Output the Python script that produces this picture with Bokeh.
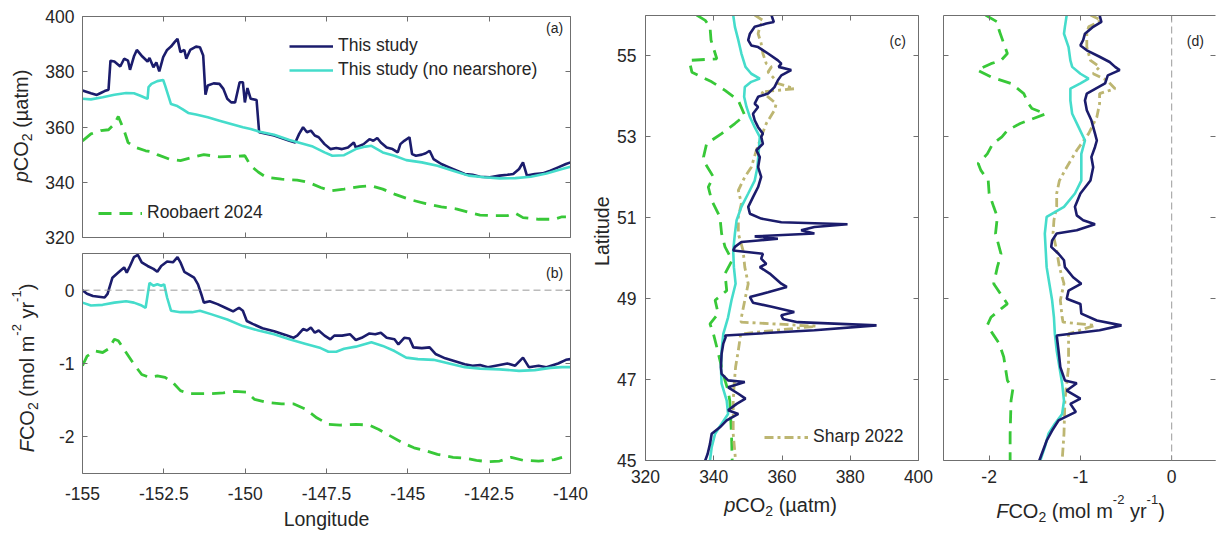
import math
from bokeh.plotting import figure
from bokeh.models import (Range1d, FixedTicker, LinearAxis, Span, Label, Legend,
                          LegendItem, CustomJSTickFormatter)
from bokeh.core.properties import value
from bokeh.layouts import row, column
from bokeh.embed import file_html
from bokeh.resources import INLINE

# ---------------- data ----------------
# panel (a): pCO2 vs longitude
lon_a_study = [-155.00, -154.74, -154.56, -154.44, -154.32, -154.20, -154.14, -154.02, -153.84, -153.72,
               -153.60, -153.54, -153.42, -153.33, -153.16, -153.00, -152.94, -152.82, -152.73, -152.64,
               -152.52, -152.40, -152.28, -152.17, -152.08, -151.99, -151.87, -151.81, -151.69, -151.51,
               -151.39, -151.29, -151.22, -151.15, -150.97, -150.79, -150.67, -150.55, -150.43, -150.31,
               -150.17, -150.07, -150.01, -149.93, -149.83, -149.65, -149.57, -149.11, -148.64, -148.46,
               -148.34, -148.22, -148.10, -147.98, -147.86, -147.74, -147.56, -147.38, -147.20, -147.02,
               -146.84, -146.66, -146.60, -146.36, -146.18, -146.06, -145.94, -145.83, -145.65, -145.47,
               -145.31, -145.23, -145.11, -144.95, -144.87, -144.75, -144.57, -144.45, -144.33, -144.21,
               -143.97, -143.73, -143.49, -143.25, -143.01, -142.78, -142.48, -142.18, -141.94, -141.76,
               -141.58, -141.46, -141.34, -141.10, -140.86, -140.62, -140.38, -140.14, -140.00]
pco2_a_study = [373.2, 372.2, 371.6, 372.3, 373.0, 373.5, 384.0, 383.7, 381.9, 384.7,
                384.0, 380.7, 385.5, 387.9, 385.5, 383.7, 385.0, 381.6, 383.4, 380.1,
                385.3, 387.9, 389.1, 390.7, 391.9, 387.1, 387.9, 384.7, 387.9, 389.1,
                388.9, 385.9, 371.7, 375.0, 375.8, 375.6, 373.8, 370.2, 368.9, 368.9,
                376.2, 376.2, 368.9, 374.1, 370.2, 369.8, 358.1, 356.9, 355.0, 354.4,
                357.5, 359.9, 358.1, 358.7, 356.9, 356.3, 353.8, 352.0, 352.4, 352.0,
                352.6, 354.4, 352.6, 353.8, 355.6, 355.0, 356.0, 354.4, 352.6, 352.0,
                350.8, 353.8, 355.0, 356.3, 350.2, 349.6, 350.0, 350.5, 351.4, 348.4,
                346.6, 345.4, 344.2, 343.0, 342.7, 342.0, 341.8, 342.4, 342.7, 343.0,
                344.8, 347.2, 342.4, 343.0, 343.2, 344.2, 345.4, 346.6, 347.2]

lon_a_nonear = [-155.00, -154.74, -154.38, -154.02, -153.66, -153.42, -153.24, -153.06, -153.00, -152.97,
                -152.88, -152.70, -152.52, -152.46, -152.28, -152.11, -151.93, -151.75, -151.51, -151.15,
                -150.79, -150.43, -150.07, -149.83, -149.59, -149.11, -148.64, -148.28, -147.92, -147.56,
                -147.32, -146.96, -146.60, -146.30, -146.12, -145.77, -145.41, -145.05, -144.57, -144.09,
                -143.61, -143.13, -142.66, -142.18, -141.70, -141.22, -140.74, -140.26, -140.00]
pco2_a_nonear = [370.2, 370.0, 370.8, 371.7, 372.3, 372.2, 371.4, 370.5, 370.2, 374.4,
                 375.6, 376.6, 377.0, 375.0, 368.3, 367.7, 366.5, 365.1, 364.5, 363.5,
                 362.3, 361.1, 359.9, 359.3, 358.4, 357.2, 355.3, 354.1, 352.9, 350.8,
                 349.6, 349.8, 352.0, 352.9, 353.2, 350.8, 349.6, 348.0, 347.2, 346.0,
                 344.2, 342.4, 341.8, 341.4, 341.5, 342.0, 343.2, 344.8, 345.6]

lon_a_roob = [-155.00, -154.74, -154.44, -154.20, -154.02, -153.90, -153.72, -153.60, -153.36, -153.06,
              -152.88, -152.70, -152.34, -151.99, -151.63, -151.27, -150.79, -150.31, -150.01, -149.83,
              -149.59, -149.35, -148.88, -148.40, -148.04, -147.68, -147.38, -146.96, -146.48, -146.12,
              -145.77, -145.41, -144.93, -144.45, -143.97, -143.49, -143.13, -142.78, -142.30, -141.94,
              -141.70, -141.46, -140.98, -140.50, -140.26, -140.14]
pco2_a_roob = [355.0, 357.5, 358.7, 359.0, 361.1, 363.8, 358.7, 354.4, 352.6, 351.4,
               351.0, 350.0, 348.4, 347.8, 349.0, 350.0, 349.2, 349.4, 349.6, 346.0,
               343.6, 341.8, 341.1, 340.8, 339.9, 338.1, 336.9, 337.5, 338.4, 338.7,
               337.5, 335.7, 333.7, 332.3, 331.1, 330.3, 329.1, 328.1, 327.9, 327.9,
               328.8, 327.2, 326.6, 326.6, 327.5, 327.5]

# panel (b): FCO2 vs longitude
lon_b_study = [-155.00, -154.86, -154.68, -154.50, -154.32, -154.23, -154.08, -153.90, -153.72, -153.64,
               -153.54, -153.42, -153.30, -153.18, -153.00, -152.82, -152.70, -152.58, -152.40, -152.22,
               -152.08, -151.99, -151.87, -151.75, -151.57, -151.45, -151.33, -151.27, -151.09, -150.85,
               -150.61, -150.37, -150.19, -150.07, -149.95, -149.77, -149.47, -149.11, -148.76, -148.52,
               -148.40, -148.22, -148.10, -147.98, -147.86, -147.74, -147.56, -147.38, -147.26, -147.02,
               -146.78, -146.60, -146.42, -146.18, -146.00, -145.83, -145.65, -145.41, -145.29, -145.11,
               -144.95, -144.83, -144.57, -144.33, -144.15, -143.85, -143.55, -143.25, -143.01, -142.78,
               -142.54, -142.18, -141.94, -141.70, -141.46, -141.28, -140.98, -140.74, -140.38, -140.14,
               -140.00]
fco2_b_study = [0.00, -0.05, -0.08, -0.09, -0.10, -0.05, 0.17, 0.24, 0.31, 0.24,
                0.33, 0.45, 0.48, 0.38, 0.33, 0.29, 0.25, 0.33, 0.39, 0.38,
                0.45, 0.38, 0.25, 0.22, 0.17, 0.08, -0.08, -0.17, -0.15, -0.19,
                -0.24, -0.29, -0.24, -0.28, -0.42, -0.46, -0.52, -0.56, -0.61, -0.65,
                -0.62, -0.53, -0.55, -0.51, -0.58, -0.55, -0.62, -0.67, -0.62, -0.62,
                -0.60, -0.68, -0.65, -0.59, -0.60, -0.58, -0.65, -0.67, -0.74, -0.65,
                -0.66, -0.78, -0.79, -0.78, -0.87, -0.93, -0.97, -1.01, -1.03, -1.02,
                -1.05, -1.02, -1.00, -1.03, -0.92, -1.05, -1.03, -1.05, -1.00, -0.95,
                -0.94]

lon_b_nonear = [-155.00, -154.74, -154.38, -154.02, -153.66, -153.42, -153.18, -153.06, -152.94, -152.82,
                -152.70, -152.58, -152.49, -152.40, -152.28, -151.99, -151.63, -151.39, -151.03, -150.55,
                -150.07, -149.59, -149.11, -148.64, -148.16, -147.68, -147.44, -147.20, -146.96, -146.60,
                -146.12, -145.77, -145.41, -145.05, -144.69, -144.21, -143.73, -143.25, -142.78, -142.18,
                -141.58, -141.10, -140.62, -140.26, -140.00]
fco2_b_nonear = [-0.17, -0.21, -0.20, -0.17, -0.15, -0.17, -0.21, -0.24, 0.10, 0.06,
                 0.08, 0.06, 0.08, -0.10, -0.28, -0.30, -0.30, -0.28, -0.33, -0.40,
                 -0.49, -0.55, -0.60, -0.67, -0.73, -0.79, -0.84, -0.84, -0.80, -0.77,
                 -0.71, -0.76, -0.83, -0.92, -0.94, -0.95, -1.00, -1.05, -1.07, -1.08,
                 -1.10, -1.09, -1.06, -1.05, -1.05]

lon_b_roob = [-155.00, -154.86, -154.62, -154.38, -154.20, -154.02, -153.90, -153.66, -153.42, -153.18,
              -152.94, -152.70, -152.46, -152.22, -151.99, -151.75, -151.39, -151.03, -150.67, -150.31,
              -149.95, -149.71, -149.35, -148.88, -148.52, -148.16, -147.80, -147.44, -147.08, -146.60,
              -146.18, -145.89, -145.53, -145.17, -144.81, -144.45, -144.09, -143.61, -143.25, -142.89,
              -142.54, -142.18, -141.82, -141.46, -140.98, -140.50, -140.26]
fco2_b_roob = [-1.03, -0.90, -0.83, -0.85, -0.80, -0.67, -0.69, -0.85, -1.01, -1.15,
               -1.19, -1.17, -1.19, -1.26, -1.37, -1.41, -1.41, -1.41, -1.40, -1.38,
               -1.39, -1.49, -1.53, -1.55, -1.55, -1.62, -1.74, -1.83, -1.84, -1.83,
               -1.84, -1.90, -1.99, -2.08, -2.15, -2.19, -2.24, -2.28, -2.29, -2.32,
               -2.34, -2.33, -2.28, -2.32, -2.33, -2.31, -2.28]

# panel (c): pCO2 vs latitude
lat_c_study = [56.01, 55.84, 55.80, 55.72, 55.55, 55.39, 55.26, 55.22, 55.06, 54.89,
               54.81, 54.73, 54.65, 54.52, 54.40, 54.23, 54.07, 53.99, 53.82, 53.74,
               53.57, 53.41, 53.24, 53.08, 53.00, 52.83, 52.67, 52.50, 52.25, 52.01,
               51.76, 51.51, 51.27, 51.10, 50.98, 50.89, 50.84, 50.77, 50.69, 50.61,
               50.54, 50.48, 50.40, 50.28, 50.19, 50.11, 49.99, 49.86, 49.78, 49.62,
               49.37, 49.29, 49.16, 49.04, 48.90, 48.80, 48.67, 48.59, 48.50, 48.42,
               48.34, 48.22, 48.09, 48.05, 47.89, 47.64, 47.31, 47.14, 46.98, 46.94,
               46.81, 46.65, 46.53, 46.40, 46.24, 46.15, 45.99, 45.82, 45.66, 45.41,
               45.16, 45.00]
pco2_c_study = [356.9, 357.6, 355.4, 352.0, 350.6, 350.1, 351.0, 353.0, 355.9, 358.8,
                359.8, 359.0, 362.7, 359.8, 358.8, 357.8, 355.9, 353.0, 352.0, 353.0,
                351.5, 352.0, 353.0, 354.4, 353.9, 354.4, 352.5, 353.5, 353.0, 353.9,
                353.0, 351.5, 350.1, 350.6, 353.9, 359.8, 379.2, 369.5, 365.6, 369.5,
                352.0, 358.8, 348.1, 346.2, 345.7, 354.4, 353.9, 355.4, 353.5, 356.4,
                359.8, 361.4, 355.9, 350.6, 351.5, 357.0, 363.6, 359.8, 360.3, 364.6,
                387.7, 369.5, 343.3, 343.5, 342.8, 342.3, 342.1, 342.3, 344.2, 349.1,
                344.2, 347.2, 349.3, 346.7, 344.2, 347.2, 343.8, 341.8, 339.4, 338.9,
                338.2, 337.5]

lat_c_nonear = [56.01, 55.72, 55.39, 55.06, 54.73, 54.56, 54.44, 54.36, 54.23, 53.99,
                53.74, 53.49, 53.24, 53.00, 52.67, 52.25, 51.92, 51.60, 51.27, 50.94,
                50.61, 50.19, 49.78, 49.37, 48.96, 48.54, 48.13, 47.72, 47.31, 46.90,
                46.48, 46.15, 45.91, 45.66, 45.33, 45.00]
pco2_c_nonear = [345.7, 346.2, 347.2, 348.1, 349.3, 351.0, 353.5, 351.0, 349.1, 348.9,
                 349.6, 350.6, 352.0, 353.5, 353.2, 352.8, 352.0, 350.1, 348.1, 346.7,
                 346.2, 345.7, 345.9, 346.4, 345.2, 344.2, 342.8, 342.3, 342.1, 342.3,
                 343.8, 344.2, 342.3, 340.4, 339.4, 338.9]

lat_c_roob = [56.01, 55.88, 55.72, 55.39, 54.93, 54.89, 54.60, 54.36, 54.15, 53.90,
              53.53, 53.33, 53.08, 52.83, 52.50, 52.34, 52.01, 51.76, 51.43, 51.02,
              50.61, 50.28, 49.95, 49.62, 49.20, 48.96, 48.63, 48.38, 48.13, 47.80,
              47.31, 46.98, 46.73, 46.48, 45.66, 45.00]
pco2_c_roob = [335.0, 337.5, 338.9, 339.2, 340.9, 332.8, 333.6, 339.4, 343.3, 347.2,
               349.1, 346.2, 342.3, 337.9, 337.0, 337.5, 339.9, 338.4, 339.4, 341.8,
               342.3, 343.3, 345.4, 343.3, 343.8, 340.4, 341.3, 338.9, 339.9, 340.9,
               342.3, 343.3, 344.2, 344.7, 345.2, 345.4]

lat_c_sharp = [56.01, 55.88, 55.72, 55.55, 55.31, 55.06, 54.81, 54.73, 54.60, 54.48,
               54.32, 54.19, 54.11, 53.99, 53.82, 53.66, 53.33, 53.00, 52.67, 52.25,
               52.01, 51.68, 51.35, 51.02, 50.61, 50.19, 49.78, 49.37, 48.96, 48.54,
               48.42, 48.32, 48.13, 47.72, 47.31, 46.90, 46.48, 45.66, 45.00]
pco2_c_sharp = [352.0, 354.4, 353.5, 353.0, 353.9, 354.4, 355.4, 356.9, 355.9, 357.3,
                358.8, 363.6, 353.9, 355.9, 358.3, 357.8, 355.4, 353.9, 352.5, 351.0,
                349.1, 347.2, 348.1, 347.2, 347.2, 348.6, 349.1, 350.1, 349.1, 348.1,
                348.0, 370.0, 347.9, 347.2, 346.4, 346.0, 345.7, 345.7, 346.4]

# panel (d): FCO2 vs latitude
lat_d_study = [56.01, 55.84, 55.72, 55.55, 55.39, 55.26, 55.14, 54.98, 54.85, 54.73,
               54.65, 54.52, 54.32, 54.07, 53.90, 53.66, 53.41, 53.08, 52.91, 52.75,
               52.50, 52.25, 51.92, 51.60, 51.27, 51.06, 50.94, 50.84, 50.69, 50.61,
               50.44, 50.28, 50.11, 49.95, 49.78, 49.53, 49.37, 49.20, 49.00, 48.87,
               48.63, 48.46, 48.34, 48.22, 48.09, 47.72, 47.31, 46.98, 46.91, 46.73,
               46.53, 46.40, 46.20, 45.99, 45.74, 45.49, 45.00]
fco2_d_study = [-0.79, -0.77, -0.86, -0.95, -0.97, -1.00, -0.93, -0.79, -0.68, -0.62,
                -0.57, -0.70, -0.73, -0.93, -0.95, -0.93, -0.88, -0.84, -0.82, -0.84,
                -0.88, -0.86, -0.89, -1.00, -1.06, -1.04, -0.97, -0.84, -1.04, -1.26,
                -1.31, -1.32, -1.24, -1.18, -1.17, -1.08, -0.99, -1.13, -1.15, -1.00,
                -0.99, -0.82, -0.55, -0.79, -1.26, -1.24, -1.22, -1.17, -1.04, -1.15,
                -1.00, -1.11, -1.05, -1.24, -1.31, -1.37, -1.45]

lat_d_nonear = [56.01, 55.72, 55.55, 55.22, 54.89, 54.73, 54.56, 54.44, 54.32, 54.19,
                53.90, 53.57, 53.24, 52.91, 52.58, 52.25, 51.92, 51.60, 51.27, 51.02,
                50.61, 50.19, 49.78, 49.37, 48.96, 48.54, 48.13, 47.72, 47.31, 46.90,
                46.48, 46.15, 45.91, 45.66, 45.33, 45.00]
fco2_d_nonear = [-1.15, -1.17, -1.18, -1.13, -1.11, -1.09, -1.00, -0.91, -1.00, -1.11,
                 -1.11, -1.09, -1.02, -0.95, -0.99, -0.99, -0.99, -1.06, -1.18, -1.37,
                 -1.39, -1.38, -1.37, -1.34, -1.31, -1.29, -1.28, -1.26, -1.23, -1.20,
                 -1.18, -1.20, -1.28, -1.35, -1.39, -1.44]

lat_d_roob = [56.01, 55.84, 55.63, 55.31, 55.06, 54.89, 54.81, 54.65, 54.48, 54.32,
              54.07, 53.82, 53.70, 53.57, 53.33, 53.16, 53.00, 52.83, 52.58, 52.34,
              52.17, 51.92, 51.60, 51.27, 51.02, 50.61, 50.11, 49.78, 49.37, 48.87,
              48.75, 48.54, 48.34, 48.13, 47.89, 47.56, 46.98, 46.77, 46.48, 45.66,
              45.00]
fco2_d_roob = [-2.04, -1.91, -1.89, -1.84, -1.80, -1.87, -1.98, -2.13, -1.98, -1.76,
               -1.62, -1.57, -1.53, -1.38, -1.66, -1.80, -1.86, -1.96, -2.02, -2.12,
               -2.09, -2.01, -2.00, -1.95, -1.91, -1.93, -1.87, -1.91, -1.95, -1.80,
               -1.87, -1.98, -2.02, -1.96, -1.89, -1.84, -1.80, -1.74, -1.76, -1.77,
               -1.77]

lat_d_sharp = [56.01, 55.88, 55.72, 55.55, 55.22, 54.89, 54.73, 54.56, 54.40, 54.19,
               54.07, 53.82, 53.49, 53.08, 52.67, 52.25, 51.92, 51.60, 51.27, 50.94,
               50.61, 50.19, 49.78, 49.37, 48.96, 48.54, 48.42, 48.34, 48.13, 47.72,
               47.31, 46.90, 46.48, 45.66, 45.00]
fco2_d_sharp = [-0.89, -0.77, -0.91, -0.93, -0.93, -0.89, -0.79, -0.86, -0.71, -0.62,
                -0.79, -0.79, -0.82, -0.91, -1.04, -1.15, -1.23, -1.26, -1.26, -1.29,
                -1.30, -1.26, -1.23, -1.18, -1.22, -1.20, -1.19, -0.84, -1.13, -1.13,
                -1.13, -1.15, -1.17, -1.18, -1.20]

lon_ticks = [-155, -152.5, -150, -147.5, -145, -142.5, -140]
pco2_ticks = [320, 340, 360, 380, 400]
fco2_ticks_b = [-2, -1, 0]
lat_ticks = [45, 47, 49, 51, 53, 55]
fco2_ticks_d = [-2, -1, 0]

# ---------------- styling ----------------
NAVY = "#1b1c6c"
CYAN = "#45dccb"
GREEN = "#38c838"
KHAKI = "#bdb672"
AXC = "#6f6f6f"
TXT = "#262626"
FONT = "Liberation Sans"
TICK_FS = "17.5px"
LAB_FS = "19.5px"

num_fmt = CustomJSTickFormatter(code="return tick.toString();")
blank_fmt = CustomJSTickFormatter(code="return '';")

# glyph advance widths (per 1000 em) of Liberation Sans, for laying out mixed-style labels
ADV = {'p': 556, 'C': 722, 'O': 778, '2': 556, ' ': 278, '(': 333, ')': 333, '\u00b5': 576,
       'a': 556, 't': 278, 'm': 833, 'F': 611, 'o': 556, 'l': 222, '-': 333, '1': 556,
       'y': 500, 'r': 333}


def tw(s, size):
    return sum(ADV.get(c, 556) for c in s) / 1000.0 * size


def style_axis(ax, ticks, labels=True, label_text=None, standoff=8, lab_standoff=5, line=True):
    ax.ticker = FixedTicker(ticks=ticks)
    ax.minor_tick_line_color = None
    ax.major_tick_in = 5
    ax.major_tick_out = 0
    ax.major_tick_line_color = AXC
    ax.axis_line_color = AXC if line else None
    ax.axis_line_width = 1
    if labels:
        ax.formatter = num_fmt
        ax.major_label_text_font = FONT
        ax.major_label_text_font_size = TICK_FS
        ax.major_label_text_color = TXT
        ax.major_label_standoff = standoff
    else:
        ax.formatter = blank_fmt
        ax.major_label_text_font_size = "0px"
        ax.major_label_standoff = 0
    if label_text:
        ax.axis_label = label_text
        ax.axis_label_text_font = FONT
        ax.axis_label_text_font_size = LAB_FS
        ax.axis_label_text_font_style = "normal"
        ax.axis_label_text_color = TXT
        ax.axis_label_standoff = lab_standoff


def make_fig(w, h, xr, yr, bl, br, bt, bb):
    p = figure(width=w, height=h, x_range=Range1d(*xr), y_range=Range1d(*yr),
               output_backend="svg", toolbar_location=None,
               min_border_left=bl, min_border_right=br, min_border_top=bt, min_border_bottom=bb)
    p.outline_line_color = None
    p.grid.visible = False
    p.background_fill_color = "white"
    p.border_fill_color = "white"
    return p


def strip(w, h):
    """Axis-free canvas (1 unit = 1 px, y downwards) that carries axis titles."""
    s = figure(width=w, height=h, x_range=Range1d(0, w), y_range=Range1d(h, 0),
               output_backend="svg", toolbar_location=None,
               x_axis_location=None, y_axis_location=None, min_border=0)
    s.outline_line_color = None
    s.grid.visible = False
    s.background_fill_color = "white"
    s.border_fill_color = "white"
    return s


def add_mirror(p, xticks, yticks, right_line=True):
    top = LinearAxis()
    style_axis(top, xticks, labels=False)
    p.add_layout(top, "above")
    right = LinearAxis()
    style_axis(right, yticks, labels=False, line=right_line)
    p.add_layout(right, "right")


def panel_label(p, x, y, t):
    p.add_layout(Label(x=x, y=y, text=t, text_font=FONT, text_font_size="14px",
                       text_color=TXT, text_align="center", text_baseline="middle"))


def legend(p, items, loc):
    lg = Legend(items=items, location=loc, border_line_color=None, background_fill_alpha=0,
                padding=0, margin=0, spacing=3, glyph_width=44, glyph_height=20,
                label_height=20, label_standoff=5, label_text_font=FONT,
                label_text_font_size="17.5px", label_text_color=TXT)
    p.add_layout(lg)


def rich_text(s, pieces, centre, baseline, vertical):
    """Mixed-style title (italic symbol, sub/superscripts) drawn as consecutive text runs."""
    total = sum(tw(t, sz) for t, sz, it, sh in pieces)
    pos = 0.0
    for t, sz, it, sh in pieces:
        lead = len(t) - len(t.lstrip(" "))
        pos += tw(" " * lead, sz)
        t2 = t.lstrip(" ")
        if vertical:
            x, y, ang = baseline - sh, centre + total / 2 - pos, math.pi / 2
        else:
            x, y, ang = centre - total / 2 + pos, baseline - sh, 0
        s.text(x=[x], y=[y], text=[t2], angle=ang, text_font=value(FONT),
               text_font_size=value(f"{sz}px"),
               text_font_style="italic" if it else "normal",
               text_color=TXT, text_align="left", text_baseline="alphabetic")
        pos += tw(t2, sz)


PCO2_LABEL = [("p", 20, True, 0), ("CO", 20, False, 0), ("2", 14, False, -6), (" (\u00b5atm)", 20, False, 0)]
FCO2_LABEL = [("F", 20, True, 0), ("CO", 20, False, 0), ("2", 14, False, -6), (" (mol m", 20, False, 0),
              ("-2", 13, False, 11), (" yr", 20, False, 0), ("-1", 13, False, 11), (")", 20, False, 0)]

LW = 2.6

# ---- left title strip for (a) and (b)
L1 = strip(42, 537)
rich_text(L1, PCO2_LABEL, 125.5, 20.5, True)
rich_text(L1, FCO2_LABEL, 367.5, 26.5, True)

# ---- panel (a)
pa = make_fig(546, 249, (-155, -140), (320, 400), 39, 18, 16, 12)
ra1 = pa.line(lon_a_study, pco2_a_study, line_color=NAVY, line_width=LW)
ra2 = pa.line(lon_a_nonear, pco2_a_nonear, line_color=CYAN, line_width=LW)
ra3 = pa.line(lon_a_roob, pco2_a_roob, line_color=GREEN, line_width=2.8, line_dash="13 8")
style_axis(pa.xaxis[0], lon_ticks, labels=False)
style_axis(pa.yaxis[0], pco2_ticks, standoff=8)
add_mirror(pa, lon_ticks, pco2_ticks)
legend(pa, [LegendItem(label="This study", renderers=[ra1]),
            LegendItem(label="This study (no nearshore)", renderers=[ra2])], (207, 157))
legend(pa, [LegendItem(label="Roobaert 2024", renderers=[ra3])], (16, 14))
panel_label(pa, -140.49, 395.8, "(a)")

# ---- panel (b)
pb = make_fig(546, 288, (-155, -140), (-2.5, 0.5), 39, 18, 4, 64)
pb.add_layout(Span(location=0, dimension="width", line_color="#9a9a9a", line_width=1, line_dash="7 4"))
pb.line(lon_b_study, fco2_b_study, line_color=NAVY, line_width=LW)
pb.line(lon_b_nonear, fco2_b_nonear, line_color=CYAN, line_width=LW)
pb.line(lon_b_roob, fco2_b_roob, line_color=GREEN, line_width=2.8, line_dash="13 8")
style_axis(pb.xaxis[0], lon_ticks, label_text="Longitude", standoff=13, lab_standoff=5)
style_axis(pb.yaxis[0], fco2_ticks_b, standoff=8)
add_mirror(pb, lon_ticks, fco2_ticks_b)
panel_label(pb, -140.49, 0.24, "(b)")

# ---- "Latitude" strip
L2 = strip(26, 490)
L2.text(x=[13], y=[237.5], text=["Latitude"], angle=math.pi / 2, text_font=value(FONT),
        text_font_size=value(LAB_FS), text_color=TXT, text_align="center", text_baseline="alphabetic")

# ---- panel (c)
pc = make_fig(319, 490, (320, 400), (45, 56), 29, 15, 15, 30)
pc.line(pco2_c_roob, lat_c_roob, line_color=GREEN, line_width=2.8, line_dash="13 8")
rc4 = pc.line(pco2_c_sharp, lat_c_sharp, line_color=KHAKI, line_width=2.8, line_dash="9 4 3 4")
pc.line(pco2_c_nonear, lat_c_nonear, line_color=CYAN, line_width=LW)
pc.line(pco2_c_study, lat_c_study, line_color=NAVY, line_width=LW)
style_axis(pc.xaxis[0], pco2_ticks, standoff=9)
style_axis(pc.yaxis[0], lat_ticks, standoff=9)
add_mirror(pc, pco2_ticks, lat_ticks)
legend(pc, [LegendItem(label="Sharp 2022", renderers=[rc4])], (119, 13))
panel_label(pc, 393.9, 55.38, "(c)")

# ---- panel (d)
pd_ = make_fig(283, 490, (-2.5, 0.48), (45, 56), 10, 1, 15, 30)
pd_.add_layout(Span(location=0, dimension="height", line_color="#9a9a9a", line_width=1, line_dash="7 4"))
pd_.line(fco2_d_roob, lat_d_roob, line_color=GREEN, line_width=2.8, line_dash="13 8")
pd_.line(fco2_d_sharp, lat_d_sharp, line_color=KHAKI, line_width=2.8, line_dash="9 4 3 4")
pd_.line(fco2_d_nonear, lat_d_nonear, line_color=CYAN, line_width=LW)
pd_.line(fco2_d_study, lat_d_study, line_color=NAVY, line_width=LW)
style_axis(pd_.xaxis[0], fco2_ticks_d, standoff=9)
style_axis(pd_.yaxis[0], lat_ticks, labels=False)
add_mirror(pd_, fco2_ticks_d, lat_ticks, right_line=False)
panel_label(pd_, 0.26, 55.38, "(d)")

# ---- bottom title strip for (c) and (d)
B = strip(628, 47)
rich_text(B, PCO2_LABEL, 192, 14, False)
rich_text(B, FCO2_LABEL, 492, 20, False)

layout = row(L1, column(pa, pb, spacing=0),
             column(row(L2, pc, pd_, spacing=0), B, spacing=0), spacing=0)

open("out.html", "w").write(file_html(layout, INLINE))
